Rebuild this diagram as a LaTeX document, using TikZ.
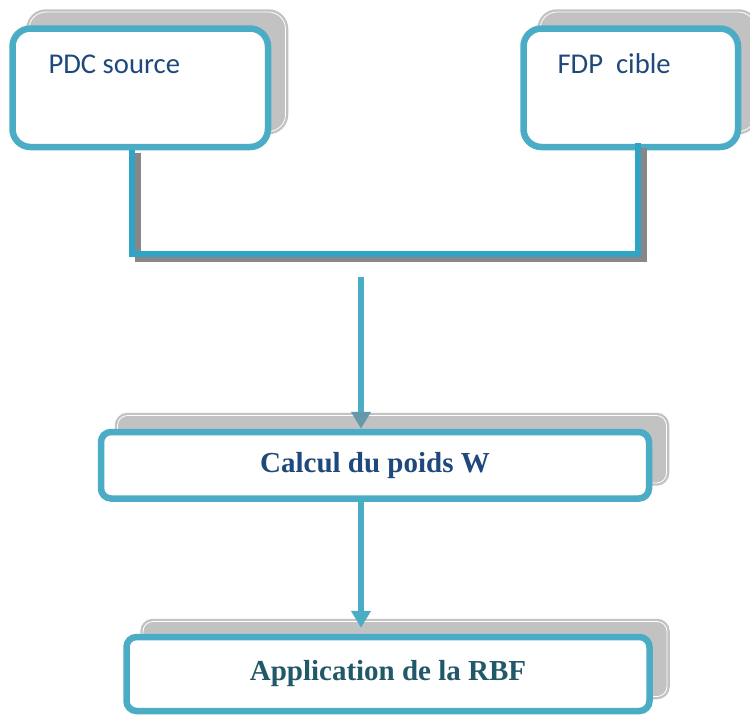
\documentclass[tikz,border=0pt]{standalone}
\usepackage{fontspec}
\newfontfamily\carlito{Carlito}
\newfontfamily\tnr{Liberation Serif}
\usetikzlibrary{arrows.meta,calc}
\definecolor{boxblue}{HTML}{4BACC6}
\definecolor{connblue}{HTML}{30A4C4}
\definecolor{shadowgray}{HTML}{C2C2C2}
\definecolor{connshadow}{HTML}{878787}
\definecolor{textblue}{HTML}{1F497D}
\definecolor{textteal}{HTML}{215968}
\definecolor{arrowdark}{HTML}{6499AA}
\begin{document}
\begin{tikzpicture}[x=0.75pt,y=-0.75pt,
  boxshadow/.style={rectangle, rounded corners=#1, fill=shadowgray, draw=white,
    line width=0.6pt, preaction={draw=shadowgray, line width=4.125pt}, inner sep=0pt},
  bluebox/.style={rectangle, rounded corners=#1, draw=boxblue, fill=white,
    line width=4.875pt, inner sep=0pt},
  toplabel/.style={font=\carlito\fontsize{21.5pt}{26pt}\selectfont, text=textblue,
    inner sep=0pt, anchor=base west},
  boxlabel/.style={font=\tnr\bfseries\fontsize{21.75pt}{26pt}\selectfont},
  conn/.style={draw=connblue, line width=4.875pt},
  connsh/.style={draw=connshadow, line width=4.125pt},
  arrowline/.style={draw=boxblue, line width=4.5pt,
    -{Triangle[length=12.75pt,width=14.25pt,color=#1]}}
]
\useasboundingbox (0,0) rectangle (750,715);
\clip (0,0) rectangle (750,715);

% centres
\coordinate (cpdc)  at (140.25,87.75);
\coordinate (cfdp)  at (630.75,87.75);
\coordinate (ccalc) at (375,465.25);
\coordinate (crbf)  at (388,674);

% shadows
\node[boxshadow=12.75pt, minimum width=192.4pt, minimum height=89.6pt] (pdcsh) at ($(cpdc)+(17,-16)$) {};
\node[boxshadow=12.75pt, minimum width=161.6pt, minimum height=89.6pt] (fdpsh) at ($(cfdp)+(17,-16)$) {};
\node[boxshadow=7.5pt, minimum width=411.75pt, minimum height=50.6pt] (calcsh) at ($(ccalc)+(17,-16)$) {};
\node[boxshadow=7.5pt, minimum width=393pt, minimum height=56.25pt] (rbfsh) at ($(crbf)+(17,-15)$) {};

% arrow 1 (its head lies on the shadow)
\coordinate (a1) at (361,277);

% boxes
\node[bluebox=13.5pt, minimum width=191.625pt, minimum height=88.875pt] (pdc) at (cpdc) {};
\node[bluebox=13.5pt, minimum width=160.875pt, minimum height=88.875pt] (fdp) at (cfdp) {};
\node[bluebox=7.5pt, minimum width=411pt, minimum height=49.875pt, boxlabel, text=textblue] (calc) at (ccalc) {Calcul du poids W};
\node[bluebox=7.5pt, minimum width=392.25pt, minimum height=55.5pt, boxlabel, text=textteal] (rbf) at (crbf) {Application de la RBF};

% elbow connector with its shadow
\coordinate (jl) at (132,254);
\coordinate (jr) at (638,254);
\draw[connsh] ($(pdc.south -| jl)+(6,3)$) -- ($(jl)+(6,5.5)$) -- ($(jr)+(6,5.5)$) -- ($(fdp.south -| jr)+(6,-2)$);
\draw[conn] (pdc.south -| jl) -- (jl) -- (jr) -- ($(fdp.south -| jr)+(0,-7)$);

% arrows
\draw[arrowline=arrowdark] (a1) -- (a1 |- calc.north);
\draw[arrowline=boxblue, shorten >=4.5pt] (a1 |- calc.south) -- (a1 |- rbf.north);

% labels of the top boxes
\node[toplabel] (pdct) at ($(pdc.north west)+(39,48)$) {PDC source};
\node[toplabel] (fdpt) at ($(fdp.north west)+(37,48)$) {FDP\ \ cible};
\end{tikzpicture}
\end{document}
